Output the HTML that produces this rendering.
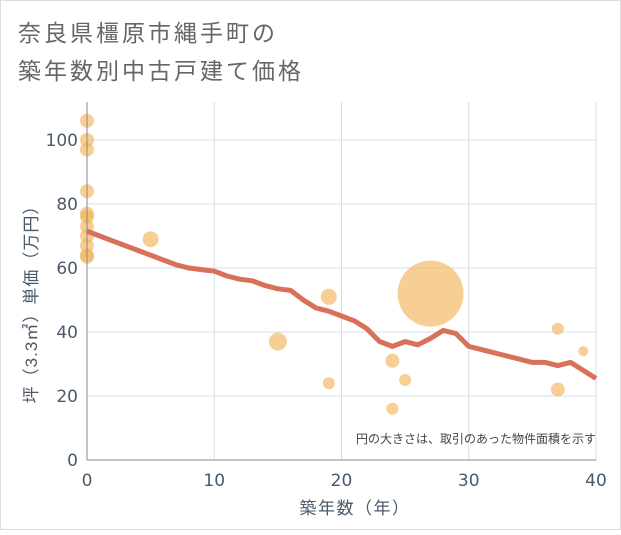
<!DOCTYPE html>
<html><head><meta charset="utf-8"><style>
body{margin:0;background:#fff;font-family:"Liberation Sans","Noto Sans CJK JP",sans-serif;}
</style></head><body>
<svg width="621" height="530" viewBox="0 0 621 530" xmlns="http://www.w3.org/2000/svg" font-family="Liberation Sans, Noto Sans CJK JP, sans-serif">
<rect x="0.5" y="0.5" width="620" height="529" fill="#fff" stroke="#ddd"/>
<text x="18" y="41" font-size="23" letter-spacing="3" fill="#666">奈良県橿原市縄手町の</text>
<text x="18" y="79" font-size="23" letter-spacing="3" fill="#666">築年数別中古戸建て価格</text>
<g id="grid"></g>
<g id="bubbles"></g>
<path id="trend" fill="none" stroke="#d8705a" stroke-width="5" stroke-linejoin="round"/>
<g id="axes"></g>
<text x="596" y="443" font-size="12" fill="#444" text-anchor="end">円の大きさは、取引のあった物件面積を示す</text>
<text x="355" y="514" font-size="17" letter-spacing="1.5" fill="#4a5a6a" text-anchor="middle">築年数（年）</text>
<text transform="translate(37,300) rotate(-90)" font-size="17" letter-spacing="1" fill="#4a5a6a" text-anchor="middle">坪（3.3㎡）単価（万円）</text>
</svg>
<script>
const xTicks=[0,10,20,30,40];
const yTicks=[0,20,40,60,80,100];
const bubbleAge=[0,0,0,0,0,0,0,0,0,0,0,5,15,19,19,24,24,25,27,37,37,39];
const bubblePrice=[106,100,97,84,77,76,73,70,67,64,63.5,69,37,51,24,31,16,25,52,41,22,34];
const bubbleRadius=[7,7,7,7,7,7,7,7,7,7,7,8,9,8,6,7,6,6,33,6,7,5];
const trendAge=[0,1,2,3,4,5,6,7,8,9,10,11,12,13,14,15,16,17,18,19,20,21,22,23,24,25,26,27,28,29,30,31,32,33,34,35,36,37,38,39,40];
const trendPrice=[71.5,70,68.5,67,65.5,64,62.5,61,60,59.5,59,57.5,56.5,56,54.5,53.5,53,50,47.5,46.5,45,43.5,41,37,35.5,37,36,38,40.5,39.5,35.5,34.5,33.5,32.5,31.5,30.5,30.5,29.5,30.5,28,25.5];
const X=v=>87+v*(596-87)/40, Y=v=>460-v*3.2;
const NS="http://www.w3.org/2000/svg";
function mk(t,a,p){const e=document.createElementNS(NS,t);for(const k in a)e.setAttribute(k,a[k]);p.appendChild(e);return e;}
const g=document.getElementById('grid'), ax=document.getElementById('axes');
yTicks.forEach(v=>{if(v>0){const l=mk('line',{x1:87,x2:596,y1:Y(v),y2:Y(v),stroke:'#d3dfe8','stroke-width':1},g);

}
const t=mk('text',{x:78,y:Y(v)+6,'font-size':17,'font-family':'DejaVu Sans, sans-serif',fill:'#4a5a6a','text-anchor':'end'},ax);t.textContent=v;

});
xTicks.forEach(v=>{if(v>0){const l=mk('line',{x1:X(v),x2:X(v),y1:102,y2:460,stroke:'#d3dfe8','stroke-width':1},g);

}
const t=mk('text',{x:X(v),y:486,'font-size':17,'font-family':'DejaVu Sans, sans-serif',fill:'#4a5a6a','text-anchor':'middle'},ax);t.textContent=v;

});
const a1=mk('line',{x1:87,x2:87,y1:102,y2:460,stroke:'#888','stroke-width':1},ax);


const a2=mk('line',{x1:87,x2:596,y1:460,y2:460,stroke:'#888','stroke-width':1},ax);


const b=document.getElementById('bubbles');
bubbleAge.forEach((v,i)=>{const c=mk('circle',{cx:X(v),cy:Y(bubblePrice[i]),r:bubbleRadius[i],fill:'#f2b65a','fill-opacity':0.65},b);

});
document.getElementById('trend').setAttribute('d',trendAge.map((v,i)=>(i?'L':'M')+X(v)+','+Y(trendPrice[i])).join(''));
</script>
</body></html>
